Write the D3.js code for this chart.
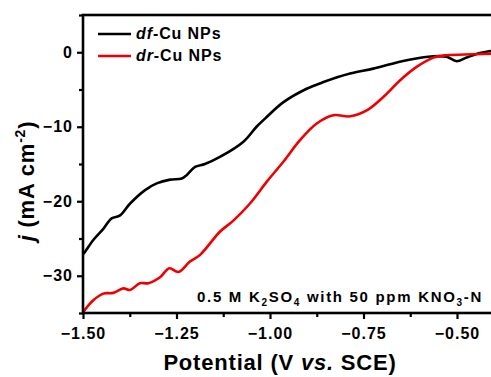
<!DOCTYPE html>
<html><head><meta charset="utf-8">
<script src="https://cdn.jsdelivr.net/npm/d3@7"></script>
<style>
html,body{margin:0;padding:0;background:#fff;overflow:hidden}
text{font-family:"Liberation Sans",Arial,sans-serif;font-weight:bold;fill:#000}
</style></head>
<body><svg id="c" width="491" height="377"></svg>
<script>
const seriesNames = ["df-Cu NPs", "dr-Cu NPs"];
const seriesColors = ["#000000", "#ee0000"];
const dfPotential = [-1.5,-1.4947,-1.4725,-1.4457,-1.4233,-1.401,-1.374,-1.334,-1.303,-1.267,-1.236,-1.223,-1.2005,-1.174,-1.134,-1.071,-1.036,-1.009,-0.964,-0.902,-0.857,-0.786,-0.724,-0.6345,-0.563,-0.528,-0.501,-0.474,-0.4385,-0.409,-0.39];
const dfCurrent   = [-27.1,-26.8,-25.2,-23.7,-22.3,-21.9,-20.3,-18.5,-17.6,-17.1,-16.95,-16.5,-15.4,-15.0,-14.05,-12.0,-10.0,-8.7,-6.7,-4.9,-4.0,-2.86,-2.2,-1.07,-0.54,-0.6,-1.2,-0.7,-0.1,0.17,0.3];
const drPotential = [-1.5,-1.4725,-1.4457,-1.419,-1.392,-1.374,-1.348,-1.325,-1.294,-1.269,-1.245,-1.214,-1.187,-1.134,-1.098,-1.0535,-1.009,-0.9644,-0.9198,-0.875,-0.8307,-0.786,-0.7414,-0.697,-0.652,-0.608,-0.563,-0.528,-0.4565,-0.409,-0.39];
const drCurrent   = [-34.9,-33.3,-32.4,-32.3,-31.7,-31.9,-31.0,-31.0,-30.2,-29.0,-29.5,-28.1,-27.2,-24.1,-22.6,-20.3,-17.4,-14.7,-11.8,-9.57,-8.46,-8.6,-7.8,-6.0,-3.76,-1.97,-0.72,-0.4,-0.27,-0.18,-0.15];
const xTicks = [-1.5,-1.25,-1.0,-0.75,-0.5];
const xMinor = [-1.375,-1.125,-0.875,-0.625,-0.375];
const yTicks = [0,-10,-20,-30];
const yMinor = [5,-5,-15,-25,-35];

const svg = d3.select("#c");
const L=83, T=15, B=313;
const x = d3.scaleLinear().domain([-1.5,-0.4]).range([L, L+1.1*374]);
const y = d3.scaleLinear().domain([-35,5]).range([B, T]);

const series = [
  {name: seriesNames[0], color: seriesColors[0], xs: dfPotential, ys: dfCurrent},
  {name: seriesNames[1], color: seriesColors[1], xs: drPotential, ys: drCurrent}
];
const line = d3.line().x(d=>x(d[0])).y(d=>y(d[1])).curve(d3.curveCatmullRom.alpha(0.5));
svg.append("defs").append("clipPath").attr("id","pc").append("rect")
  .attr("x",L).attr("y",T).attr("width",x.range()[1]-L).attr("height",B-T);
const g = svg.append("g").attr("clip-path","url(#pc)");
series.forEach(s=>{
  g.append("path").datum(s.xs.map((v,i)=>[v,s.ys[i]]))
   .attr("d",line).attr("fill","none").attr("stroke",s.color).attr("stroke-width",2.6)
   .attr("stroke-linejoin","round");
});

// axes
const xAxis = d3.axisBottom(x).tickValues(xTicks).tickFormat(d3.format(".2f")).tickSize(6).tickPadding(4);
const gx = svg.append("g").attr("transform",`translate(0,${B})`).call(xAxis);
gx.select(".domain").remove();
gx.selectAll(".tick line").attr("stroke-width",2.2);
gx.selectAll(".tick text").style("font-size","16px").style("letter-spacing","1px").attr("dy","1.0em");
const gxm = svg.append("g").attr("transform",`translate(0,${B})`)
  .call(d3.axisBottom(x).tickValues(xMinor).tickSize(4).tickFormat(""));
gxm.select(".domain").remove();
gxm.selectAll(".tick line").attr("stroke-width",2.2);

const yAxis = d3.axisLeft(y).tickValues(yTicks).tickFormat(d3.format("d")).tickSize(6).tickPadding(4);
const gy = svg.append("g").attr("transform",`translate(${L},0)`).call(yAxis);
gy.select(".domain").remove();
gy.selectAll(".tick line").attr("stroke-width",2.2);
gy.selectAll(".tick text").style("font-size","16px").style("letter-spacing","1px");
const gym = svg.append("g").attr("transform",`translate(${L},0)`)
  .call(d3.axisLeft(y).tickValues(yMinor).tickSize(4).tickFormat(""));
gym.select(".domain").remove();
gym.selectAll(".tick line").attr("stroke-width",2.2);

// frame
svg.append("rect").attr("x",L).attr("y",T).attr("width",x.range()[1]-L).attr("height",B-T)
  .attr("fill","none").attr("stroke","#000").attr("stroke-width",2.6);

// legend
series.forEach((s,i)=>{
  const ly = 34 + i*22;
  svg.append("line").attr("x1",98).attr("x2",131).attr("y1",ly).attr("y2",ly)
    .attr("stroke",s.color).attr("stroke-width",2.6);
  const [pre, post] = s.name.split("-");
  const t = svg.append("text").attr("x",136).attr("y",ly+5).style("font-size","16px").style("letter-spacing","0.9px");
  t.append("tspan").style("font-style","italic").text(pre);
  t.append("tspan").text("-"+post);
});

// annotation
const ann = svg.append("text").attr("x",197).attr("y",302).style("font-size","15px").style("letter-spacing","1.7px");
ann.append("tspan").text("0.5 M K");
ann.append("tspan").attr("dy",4).style("font-size","10px").text("2");
ann.append("tspan").attr("dy",-4).text("SO");
ann.append("tspan").attr("dy",4).style("font-size","10px").text("4");
ann.append("tspan").attr("dy",-4).text(" with 50 ppm KNO");
ann.append("tspan").attr("dy",4).style("font-size","10px").text("3");
ann.append("tspan").attr("dy",-4).text("-N");

// axis titles
const xt = svg.append("text").attr("x",280).attr("y",370).attr("text-anchor","middle").style("font-size","22px").style("letter-spacing","0.8px");
xt.append("tspan").text("Potential (V ");
xt.append("tspan").style("font-style","italic").text("vs.");
xt.append("tspan").text(" SCE)");

const yt = svg.append("text").attr("transform","translate(34,181) rotate(-90)").attr("text-anchor","middle").style("font-size","22px").style("letter-spacing","0.8px");
yt.append("tspan").style("font-style","italic").text("j");
yt.append("tspan").text(" (mA cm");
yt.append("tspan").attr("dy",-9).style("font-size","14px").text("-2");
yt.append("tspan").attr("dy",9).text(")");
</script></body></html>
